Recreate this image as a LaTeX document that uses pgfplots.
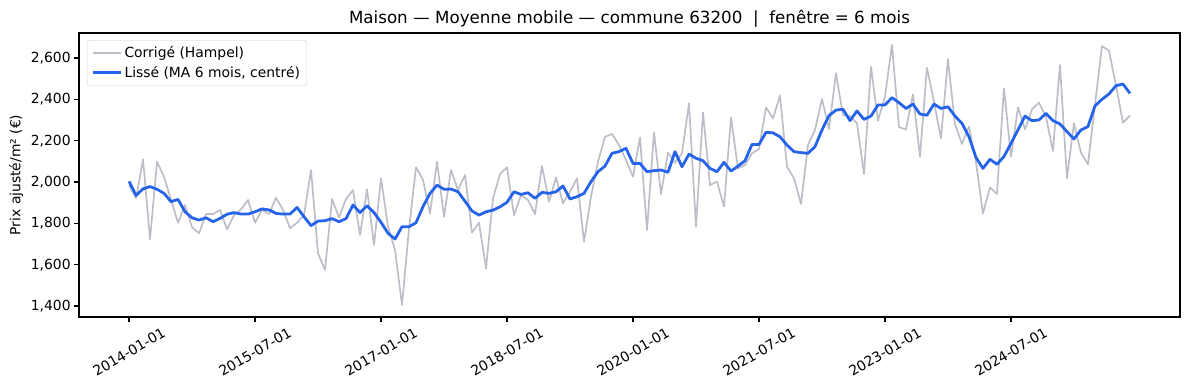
\documentclass[border=0pt]{standalone}
\usepackage{fontspec}
\setmainfont{DejaVu Sans}
\usepackage{pgfplots}
\usepackage{pgfplotstable}
\pgfplotsset{compat=1.18}
\usetikzlibrary{calc}
\definecolor{grayline}{RGB}{187,190,198}
\definecolor{blueline}{RGB}{37,99,235}
\definecolor{legedge}{RGB}{204,204,204}

\pgfplotstableread{
m g s
0 1985 2003
1 1921 1935
2 2110 1967
3 1723 1978
4 2098 1965
5 2026 1945
6 1913 1905
7 1803 1916
8 1889 1856
9 1781 1827
10 1752 1816
11 1845 1827
12 1845 1808
13 1865 1824
14 1771 1844
15 1840 1852
16 1868 1845
17 1913 1845
18 1803 1856
19 1865 1870
20 1845 1865
21 1924 1848
22 1865 1845
23 1776 1845
24 1803 1877
25 1840 1832
26 2058 1789
27 1655 1811
28 1575 1813
29 1918 1823
30 1828 1808
31 1918 1823
32 1961 1889
33 1744 1852
34 1965 1885
35 1695 1852
36 2018 1805
37 1784 1752
38 1671 1724
39 1405 1784
40 1775 1784
41 2071 1803
42 2010 1881
43 1848 1945
44 2098 1985
45 1832 1965
46 2058 1966
47 1961 1953
48 2034 1907
49 1755 1860
50 1803 1840
51 1582 1856
52 1921 1864
53 2039 1880
54 2071 1902
55 1840 1953
56 1937 1940
57 1913 1948
58 1845 1921
59 2077 1950
60 1905 1945
61 2021 1953
62 1897 1981
63 1953 1918
64 2018 1929
65 1711 1945
66 1929 2002
67 2098 2050
68 2219 2077
69 2232 2139
70 2179 2147
71 2106 2163
72 2026 2090
73 2216 2090
74 1768 2050
75 2240 2055
76 1942 2058
77 2142 2047
78 2093 2147
79 2139 2074
80 2381 2135
81 1784 2115
82 2337 2103
83 1985 2066
84 2002 2050
85 1881 2095
86 2313 2053
87 2066 2077
88 2082 2103
89 2139 2182
90 2160 2182
91 2361 2240
92 2308 2238
93 2418 2219
94 2074 2179
95 2018 2147
96 1894 2142
97 2179 2139
98 2252 2171
99 2402 2252
100 2256 2321
101 2526 2348
102 2324 2352
103 2319 2297
104 2284 2344
105 2039 2303
106 2558 2319
107 2297 2373
108 2413 2373
109 2663 2408
110 2265 2384
111 2255 2356
112 2424 2377
113 2123 2329
114 2553 2323
115 2389 2377
116 2211 2356
117 2594 2364
118 2281 2319
119 2184 2284
120 2268 2219
121 2098 2119
122 1848 2066
123 1974 2110
124 1942 2086
125 2453 2123
126 2123 2187
127 2361 2252
128 2255 2319
129 2352 2297
130 2384 2300
131 2316 2332
132 2150 2297
133 2566 2281
134 2018 2244
135 2284 2208
136 2142 2252
137 2086 2268
138 2373 2368
139 2658 2400
140 2635 2426
141 2469 2466
142 2287 2474
143 2321 2429
}\datatable

\begin{document}
\begin{tikzpicture}
\begin{axis}[
  scale only axis, width=1101pt, height=284pt,
  xmin=-7.15, xmax=150.15, ymin=1347, ymax=2721,
  axis line style={line width=1.11pt},
  tick align=outside, tick pos=left,
  major tick length=4.86pt,
  every tick/.style={black, line width=1.11pt},
  xtick={0,18,36,54,72,90,108,126},
  xticklabels={2014-01-01,2015-07-01,2017-01-01,2018-07-01,2020-01-01,2021-07-01,2023-01-01,2024-07-01},
  ytick={1400,1600,1800,2000,2200,2400,2600},
  /pgf/number format/1000 sep={,},
  /pgf/number format/assume math mode=true,
  tick label style={font=\fontsize{13.9}{16}\selectfont},
  xticklabel style={yshift=-30pt, rotate=30, anchor=center},
  ylabel={Prix ajusté/m² (€)},
  ylabel style={at={(axis description cs:-0.057,0.5)}, anchor=center, rotate=0, font=\fontsize{13.9}{16}\selectfont},
  title={Maison — Moyenne mobile — commune 63200 \ | \ fenêtre = 6 mois},
  title style={at={(axis description cs:0.5,1)}, anchor=base, yshift=3pt, font=\fontsize{16.7}{19}\selectfont},
  legend image code/.code={\draw[#1] (0pt,0pt) -- (28pt,0pt);},
  legend cell align=left,
  legend style={at={(axis description cs:0.0073,0.975)}, anchor=north west,
    draw=legedge, rounded corners=2.5pt, fill=white, fill opacity=0.8, text opacity=1,
    font=\fontsize{13.9}{16}\selectfont, inner xsep=4pt, inner ysep=4pt, row sep=2pt,
    nodes={inner sep=2.5pt}},
]
\addplot[grayline, line width=1.67pt, line join=round] table[x=m, y=g] {\datatable};
\addlegendentry{Corrigé (Hampel)}
\addplot[blueline, line width=2.78pt, line join=round] table[x=m, y=s] {\datatable};
\addlegendentry{Lissé (MA 6 mois, centré)}
\coordinate (sw) at (rel axis cs:0,0);
\coordinate (ne) at (rel axis cs:1,1);
\end{axis}
\pgfresetboundingbox
\path ($(sw)+(-79pt,-73pt)$) rectangle ($(ne)+(9pt,33pt)$);
\end{tikzpicture}
\end{document}
